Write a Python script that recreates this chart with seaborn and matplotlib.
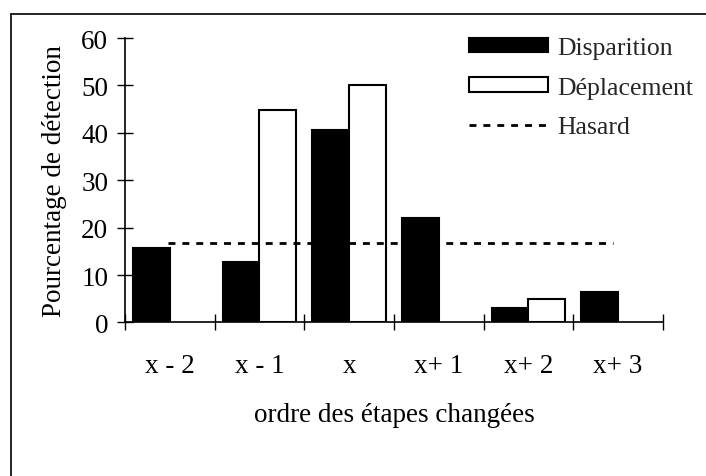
import matplotlib
matplotlib.use("Agg")
import matplotlib.pyplot as plt
import seaborn as sns
import pandas as pd
import numpy as np
from matplotlib.patches import Patch
from matplotlib.lines import Line2D

categories = ["x - 2", "x - 1", "x", "x+ 1", "x+ 2", "x+ 3"]
disparition = [15.8, 12.8, 40.7, 22.1, 3.1, 6.5]
deplacement = [np.nan, 44.9, 50.0, np.nan, 5.0, np.nan]
hasard = 16.67
series_names = ["Disparition", "Déplacement"]
yticks = [0, 10, 20, 30, 40, 50, 60]

sns.set_theme(style="white")
plt.rcParams["font.family"] = ["Liberation Serif", "DejaVu Serif"]

df = pd.DataFrame({
    "cat": categories * 2,
    "val": disparition + deplacement,
    "serie": [series_names[0]] * len(categories) + [series_names[1]] * len(categories),
})

fig = plt.figure(figsize=(7.06, 4.77), dpi=100)
ax = fig.add_axes([0.177, 0.322, 0.762, 0.596])

sns.barplot(data=df, x="cat", y="val", hue="serie", order=categories,
            hue_order=series_names, palette=["black", "white"],
            edgecolor="black", linewidth=1.5, width=0.82, ax=ax,
            legend=False, saturation=1)

ax.plot([-0.02, 4.94], [hasard, hasard], color="black", lw=2,
        dashes=(2.5, 2.5))

ax.set_xlim(-0.5, len(categories) - 0.5)
ax.set_ylim(0, 60)
ax.set_yticks(yticks)
ax.set_yticklabels([str(v) for v in yticks], fontsize=19.5)
ax.set_xticks(np.arange(len(categories)))
ax.set_xticklabels(categories, fontsize=19.5)
ax.set_xticks(np.arange(len(categories) + 1) - 0.5, minor=True)
ax.tick_params(axis="x", which="major", length=0, pad=22, colors="black")
ax.tick_params(axis="x", which="minor", length=12, direction="inout",
               width=1, color="black", bottom=True)
ax.tick_params(axis="y", which="major", length=12, direction="inout",
               width=1, color="black", left=True, pad=6, colors="black")
ax.set_xlabel("ordre des étapes changées", fontsize=19.5, labelpad=17,
              color="black")
ax.set_ylabel("Pourcentage de détection", fontsize=19.5, labelpad=10,
              color="black")
for s in ["top", "right"]:
    ax.spines[s].set_visible(False)
for s in ["left", "bottom"]:
    ax.spines[s].set_color("black")
    ax.spines[s].set_linewidth(1.2)

handles = [
    Patch(facecolor="black", edgecolor="black", linewidth=1.5),
    Patch(facecolor="white", edgecolor="black", linewidth=1.5),
    Line2D([0], [0], color="black", lw=2, dashes=(2.5, 2.5)),
]
ax.legend(handles, series_names + ["Hasard"], loc="upper right",
          bbox_to_anchor=(1.10, 1.085), fontsize=18.5, frameon=False,
          handlelength=3.1, handleheight=0.5, handletextpad=0.36,
          labelspacing=0.68)

# cropped outer frame (left and top edges only)
fig.add_artist(Line2D([11 / 706, 11 / 706], [0, 1 - 15 / 477],
                      transform=fig.transFigure, color="black", lw=1.2))
fig.add_artist(Line2D([11 / 706, 1], [1 - 15 / 477, 1 - 15 / 477],
                      transform=fig.transFigure, color="black", lw=1.2))

fig.savefig("out.png", dpi=100, facecolor="white")
